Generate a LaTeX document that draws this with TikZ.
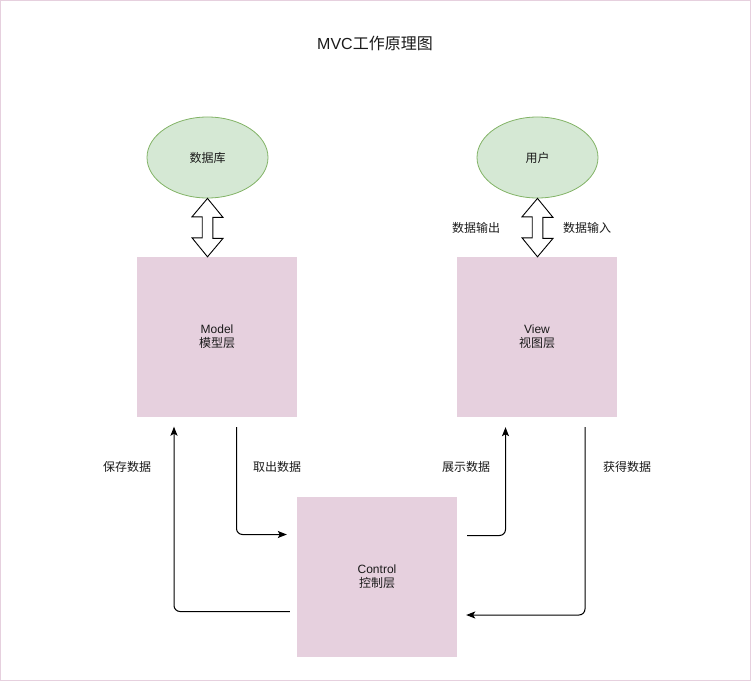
\documentclass[tikz,border=0pt]{standalone}
\usepackage{fontspec}
\setmainfont{Liberation Sans}
\newfontfamily\cjk{Noto Sans CJK SC}
\usetikzlibrary{arrows.meta,calc,shapes.geometric}
\definecolor{boxpink}{HTML}{E6D0DE}
\definecolor{ellfill}{HTML}{D5E8D4}
\definecolor{elldraw}{HTML}{82B366}
\definecolor{framec}{HTML}{E6D0DE}
\definecolor{txtc}{HTML}{1A1A1A}
\tikzset{
  layerbox/.style={rectangle, fill=boxpink, draw=none, minimum width=160bp, minimum height=160bp, inner sep=0pt, align=center, font=\fontsize{12bp}{14bp}\selectfont, text=txtc},
  endpoint/.style={ellipse, fill=ellfill, draw=elldraw, line width=0.8bp, minimum width=121bp, minimum height=81bp, inner sep=0pt, font=\fontsize{12bp}{14bp}\selectfont\cjk, text=txtc},
  lbl/.style={font=\fontsize{12bp}{14bp}\selectfont\cjk, text=txtc, inner sep=0pt},
  flow/.style={draw=black, line width=1bp, rounded corners=6bp, -{Stealth[length=9bp,width=7bp,inset=2bp]}},
  dblarrow/.style={draw=black, fill=white, line width=0.9bp, line join=miter}
}
\begin{document}
\begin{tikzpicture}[x=1bp,y=-1bp]
\useasboundingbox (0,0) rectangle (751,681);
\draw[framec, line width=1.5bp] (0.75,0.75) rectangle (750.25,680.25);

\node[lbl, font=\fontsize{16bp}{19bp}\selectfont] (title) at (375,43) {MVC{\cjk 工作原理图}};

\node[endpoint] (db) at (207.5,157.5) {数据库};
\node[endpoint] (user) at (537.5,157.5) {用户};

\node[layerbox] (model) at (217,337) {Model\\{\cjk 模型层}};
\node[layerbox] (view) at (537,337) {View\\{\cjk 视图层}};
\node[layerbox] (ctrl) at (377,577) {Control\\{\cjk 控制层}};

% double arrows
\draw[dblarrow] (db.south) -- ++(15.5,19) -- ++(-10.2,0) -- ++(0,21) -- ++(10.2,0) -- (db.south |- model.north) -- ++(-15.5,-19) -- ++(10.2,0) -- ++(0,-21) -- ++(-10.2,0) -- cycle;
\draw[dblarrow] (user.south) -- ++(15.5,19) -- ++(-10.2,0) -- ++(0,21) -- ++(10.2,0) -- (user.south |- view.north) -- ++(-15.5,-19) -- ++(10.2,0) -- ++(0,-21) -- ++(-10.2,0) -- cycle;

\node[lbl] (out) at (476,228) {数据输出};
\node[lbl] (in) at (587,228) {数据输入};

% connectors
\coordinate (saveS) at ($(ctrl.west)+(-7,34.5)$);
\coordinate (saveE) at ($(model.south)+(-43,9.5)$);
\draw[flow] (saveS) -| (saveE);

\coordinate (takeS) at ($(model.south)+(19.5,10)$);
\coordinate (takeE) at ($(ctrl.west)+(-10,-42.5)$);
\draw[flow] (takeS) |- (takeE);

\coordinate (showS) at ($(ctrl.east)+(10,-41.5)$);
\coordinate (showE) at ($(view.south)+(-31.5,10)$);
\draw[flow] (showS) -| (showE);

\coordinate (getS) at ($(view.south)+(48,10)$);
\coordinate (getE) at ($(ctrl.east)+(9,38)$);
\draw[flow] (getS) |- (getE);

\node[lbl] (save) at (127,467) {保存数据};
\node[lbl] (take) at (277,467) {取出数据};
\node[lbl] (show) at (466,467) {展示数据};
\node[lbl] (get) at (627,467) {获得数据};
\end{tikzpicture}
\end{document}
